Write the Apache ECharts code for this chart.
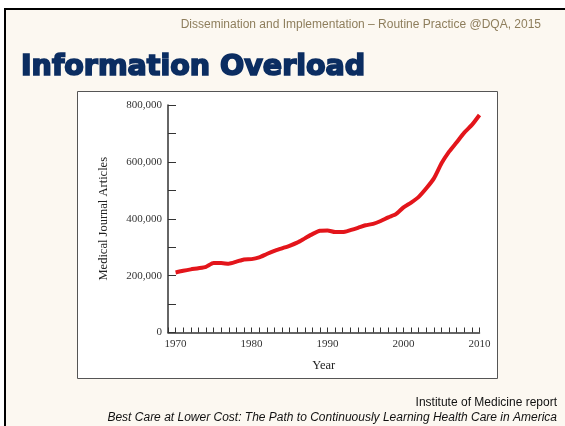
<!DOCTYPE html>
<html>
<head>
<meta charset="utf-8">
<script src="https://cdn.jsdelivr.net/npm/echarts@6/dist/echarts.min.js"></script>
<style>
  html, body { margin: 0; padding: 0; background: #ffffff; }
  #chart { width: 565px; height: 426px; }
</style>
</head>
<body>
<div id="chart"></div>
<script>
// years and article counts
var years = [1970, 1971, 1972, 1973, 1974, 1975, 1976, 1977, 1978, 1979,
  1980, 1981, 1982, 1983, 1984, 1985, 1986, 1987, 1988, 1989,
  1990, 1991, 1992, 1993, 1994, 1995, 1996, 1997, 1998, 1999,
  2000, 2001, 2002, 2003, 2004, 2005, 2006, 2007, 2008, 2009, 2010];
var articles = [211000, 217000, 222000, 226000, 231000, 244000, 244000, 242000, 249000, 257000,
  258000, 264000, 276000, 287000, 296000, 305000, 316000, 331000, 346000, 358000,
  359000, 353000, 353000, 360000, 368000, 377000, 382000, 392000, 405000, 416000,
  440000, 457000, 477000, 507000, 542000, 595000, 636000, 669000, 703000, 730000, 765000];
var yearLabels = [1970, 1980, 1990, 2000, 2010];
var valueLabels = [0, 200000, 400000, 600000, 800000];

var headerText = 'Dissemination and Implementation \u2013 Routine Practice @DQA, 2015';
var titleText = 'Information Overload';
var sourceText = 'Institute of Medicine report';
var bookText = 'Best Care at Lower Cost: The Path to Continuously Learning Health Care in America';

var chart = echarts.init(document.getElementById('chart'), null, { renderer: 'canvas' });

var points = years.map(function (y, i) { return [y, articles[i]]; });

var serif = '"Liberation Serif", "Times New Roman", serif';

var option = {
  backgroundColor: '#ffffff',
  animation: false,
  graphic: [
    // slide background + frame (top/left only)
    { type: 'rect', shape: { x: 5, y: 9, width: 570, height: 430 }, style: { fill: '#fcf8f1' }, z: -10 },
    { type: 'line', shape: { x1: 4, y1: 9, x2: 565, y2: 9 }, style: { stroke: '#000', lineWidth: 2 }, z: -9 },
    { type: 'line', shape: { x1: 5, y1: 8, x2: 5, y2: 426 }, style: { stroke: '#000', lineWidth: 2 }, z: -9 },
    // chart picture box
    { type: 'rect', shape: { x: 77.5, y: 91.5, width: 420, height: 287 }, style: { fill: '#ffffff', stroke: '#555', lineWidth: 1 }, z: -8 },
    { type: 'text', x: 541, y: 25, style: { text: headerText, font: '12px "Liberation Sans", Arial, sans-serif', fill: '#8e7e5c', align: 'right', verticalAlign: 'middle' } },
    { type: 'text', x: 21, y: 68, style: { text: titleText, font: 'bold 28.5px "DejaVu Sans", sans-serif', fill: '#0b2d61', stroke: '#0b2d61', lineWidth: 1.7, align: 'left', verticalAlign: 'middle' } },
    { type: 'text', x: 557, y: 403, style: { text: sourceText, font: '12px "Liberation Sans", Arial, sans-serif', fill: '#111', align: 'right', verticalAlign: 'middle' } },
    { type: 'text', x: 557, y: 418, style: { text: bookText, font: 'italic 12px "Liberation Sans", Arial, sans-serif', fill: '#111', align: 'right', verticalAlign: 'middle' } }
  ],
  grid: { left: 168, right: 85.5, top: 105, bottom: 93.5 },
  xAxis: {
    type: 'value',
    min: 1969,
    max: 2010,
    interval: 1,
    name: 'Year',
    nameLocation: 'middle',
    nameGap: 27,
    nameTextStyle: { fontFamily: serif, fontSize: 12.5, color: '#222' },
    splitLine: { show: false },
    axisLine: { lineStyle: { color: '#333', width: 1.5 } },
    axisTick: { inside: true, length: 5, lineStyle: { color: '#333', width: 1 } },
    axisLabel: {
      margin: 6,
      fontFamily: serif,
      fontSize: 11,
      color: '#333',
      formatter: function (v) { return yearLabels.indexOf(v) >= 0 ? String(v) : ''; }
    }
  },
  yAxis: {
    type: 'value',
    min: 0,
    max: 800000,
    interval: 100000,
    name: 'Medical Journal Articles',
    nameLocation: 'middle',
    nameRotate: 90,
    nameGap: 58,
    nameTextStyle: { fontFamily: serif, fontSize: 12.5, color: '#222' },
    splitLine: { show: false },
    axisLine: { show: true, lineStyle: { color: '#333', width: 1.5 } },
    axisTick: { show: true, inside: true, length: 8, lineStyle: { color: '#333', width: 1 } },
    axisLabel: {
      margin: 6,
      fontFamily: serif,
      fontSize: 11,
      color: '#333',
      formatter: function (v) { return valueLabels.indexOf(v) >= 0 ? v.toLocaleString('en-US') : ''; }
    }
  },
  series: [{
    type: 'line',
    data: points,
    showSymbol: false,
    smooth: 0.2,
    lineStyle: { color: '#e3151b', width: 4 }
  }]
};

chart.setOption(option);
</script>
</body>
</html>
